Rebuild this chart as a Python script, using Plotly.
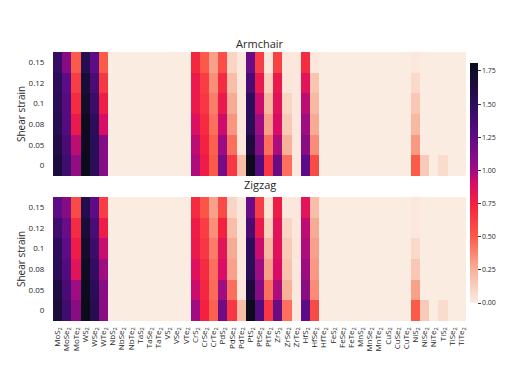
import plotly.graph_objects as go

materials = ["MoS2", "MoSe2", "MoTe2", "WS2", "WSe2", "WTe2",
             "NbS2", "NbSe2", "NbTe2", "TaS2", "TaSe2", "TaTe2", "VS2", "VSe2", "VTe2",
             "CrS2", "CrSe2", "CrTe2", "PdS2", "PdSe2", "PdTe2", "PtS2", "PtSe2", "PtTe2",
             "ZrS2", "ZrSe2", "ZrTe2", "HfS2", "HfSe2", "HfTe2",
             "FeS2", "FeSe2", "FeTe2", "MnS2", "MnSe2", "MnTe2", "CuS2", "CuSe2", "CuTe2",
             "NiS2", "NiSe2", "NiTe2", "TiS2", "TiSe2", "TiTe2"]
strain_labels = ["0", "0.05", "0.08", "0.1", "0.12", "0.15"]

# Armchair (one list per strain, bottom to top)
arm_000 = [1.65, 1.40, 1.05, 1.81, 1.53, 1.10, 0, 0, 0, 0, 0, 0, 0, 0, 0,
           0.98, 0.78, 0.50, 1.15, 0.65, 0.20, 1.80, 1.30, 0.65, 1.20, 0.44, 0.02, 1.25, 0.57, 0,
           0, 0, 0, 0, 0, 0, 0, 0, 0, 0.50, 0.15, 0, 0.07, 0, 0]
arm_005 = [1.60, 1.35, 0.95, 1.78, 1.52, 1.10, 0, 0, 0, 0, 0, 0, 0, 0, 0,
           0.95, 0.74, 0.48, 1.02, 0.44, 0.02, 1.65, 1.10, 0.44, 0.98, 0.25, 0.02, 1.08, 0.36, 0,
           0, 0, 0, 0, 0, 0, 0, 0, 0, 0.32, 0, 0, 0, 0, 0]
arm_008 = [1.55, 1.30, 0.80, 1.78, 1.50, 0.90, 0, 0, 0, 0, 0, 0, 0, 0, 0,
           0.88, 0.70, 0.44, 0.92, 0.33, 0.02, 1.53, 1.00, 0.30, 0.90, 0.15, 0.02, 1.00, 0.27, 0,
           0, 0, 0, 0, 0, 0, 0, 0, 0, 0.22, 0, 0, 0, 0, 0]
arm_010 = [1.52, 1.28, 0.70, 1.72, 1.42, 0.78, 0, 0, 0, 0, 0, 0, 0, 0, 0,
           0.80, 0.65, 0.40, 0.80, 0.27, 0.02, 1.50, 0.93, 0.22, 0.85, 0.10, 0.02, 0.95, 0.22, 0,
           0, 0, 0, 0, 0, 0, 0, 0, 0, 0.16, 0, 0, 0, 0, 0]
arm_012 = [1.50, 1.25, 0.62, 1.68, 1.35, 0.65, 0, 0, 0, 0, 0, 0, 0, 0, 0,
           0.80, 0.62, 0.35, 0.70, 0.20, 0.02, 1.35, 0.80, 0.12, 0.80, 0.03, 0.02, 0.85, 0.17, 0,
           0, 0, 0, 0, 0, 0, 0, 0, 0, 0.08, 0, 0, 0, 0, 0]
arm_015 = [1.45, 1.10, 0.50, 1.55, 1.25, 0.50, 0, 0, 0, 0, 0, 0, 0, 0, 0,
           0.72, 0.50, 0.30, 0.55, 0.10, 0.02, 1.20, 0.62, 0.02, 0.60, 0.02, 0.02, 0.70, 0.02, 0,
           0, 0, 0, 0, 0, 0, 0, 0, 0, 0.02, 0, 0, 0, 0, 0]

# Zigzag (one list per strain, bottom to top)
zz_000 = [1.66, 1.40, 1.08, 1.81, 1.56, 1.08, 0, 0, 0, 0, 0, 0, 0, 0, 0,
          1.00, 0.75, 0.48, 1.18, 0.65, 0.20, 1.80, 1.30, 0.65, 1.20, 0.44, 0.02, 1.25, 0.57, 0,
          0, 0, 0, 0, 0, 0, 0, 0, 0, 0.50, 0.15, 0, 0.07, 0, 0]
zz_005 = [1.62, 1.35, 1.00, 1.79, 1.52, 1.08, 0, 0, 0, 0, 0, 0, 0, 0, 0,
          0.93, 0.72, 0.45, 1.00, 0.44, 0.02, 1.65, 1.10, 0.44, 0.98, 0.25, 0.02, 1.08, 0.36, 0,
          0, 0, 0, 0, 0, 0, 0, 0, 0, 0.30, 0, 0, 0, 0, 0]
zz_008 = [1.53, 1.30, 0.85, 1.77, 1.47, 1.00, 0, 0, 0, 0, 0, 0, 0, 0, 0,
          0.87, 0.70, 0.44, 0.90, 0.30, 0.02, 1.53, 1.00, 0.30, 0.90, 0.18, 0.02, 1.02, 0.32, 0,
          0, 0, 0, 0, 0, 0, 0, 0, 0, 0.16, 0, 0, 0, 0, 0]
zz_010 = [1.50, 1.25, 0.78, 1.72, 1.42, 0.93, 0, 0, 0, 0, 0, 0, 0, 0, 0,
          0.80, 0.65, 0.40, 0.85, 0.27, 0.02, 1.50, 0.93, 0.22, 0.86, 0.15, 0.03, 0.98, 0.30, 0,
          0, 0, 0, 0, 0, 0, 0, 0, 0, 0.08, 0, 0, 0, 0, 0]
zz_012 = [1.40, 1.20, 0.70, 1.68, 1.35, 0.78, 0, 0, 0, 0, 0, 0, 0, 0, 0,
          0.78, 0.62, 0.35, 0.75, 0.20, 0.02, 1.35, 0.80, 0.12, 0.85, 0.10, 0.02, 0.95, 0.27, 0,
          0, 0, 0, 0, 0, 0, 0, 0, 0, 0.02, 0, 0, 0, 0, 0]
zz_015 = [1.25, 1.10, 0.57, 1.57, 1.25, 0.62, 0, 0, 0, 0, 0, 0, 0, 0, 0,
          0.70, 0.52, 0.30, 0.57, 0.10, 0.02, 1.20, 0.62, 0.04, 0.78, 0.02, 0.02, 0.85, 0.20, 0,
          0, 0, 0, 0, 0, 0, 0, 0, 0, 0.02, 0, 0, 0, 0, 0]

armchair = [arm_000, arm_005, arm_008, arm_010, arm_012, arm_015]
zigzag = [zz_000, zz_005, zz_008, zz_010, zz_012, zz_015]

cbar_ticks = [0, 0.25, 0.5, 0.75, 1.0, 1.25, 1.5, 1.75]
ZMIN, ZMAX = 0.0, 1.81

def sub(name):
    return name[:-1] + "<sub>" + name[-1] + "</sub>"

xlabels = [sub(m) for m in materials]

stops = [(0.00, "#FBECE2"), (0.25, "#F8B29A"), (0.50, "#FC5A48"), (0.75, "#F3203F"),
         (0.90, "#DA0C66"), (1.00, "#A00C82"), (1.25, "#5C0C86"), (1.50, "#2C0D5C"),
         (1.81, "#0B0B1A")]
colorscale = [[v / ZMAX, c] for v, c in stops]

FONT = "Open Sans"
OFF = 8  # page body margin
W, H = 524 - OFF, 387 - OFF
# target screen coordinates of the plot area
sx0, sx1, sy0, sy1 = 53, 466, 52, 321
L, T = sx0 - OFF, sy0 - OFF
R, B = W - (sx1 - OFF), H - (sy1 - OFF)
pw, ph = W - L - R, H - T - B

def px(sx):
    return (sx - sx0) / pw

def py(sy):
    return (sy1 - sy) / ph

fig = go.Figure()
fig.add_trace(go.Heatmap(
    z=armchair, x=xlabels, y=strain_labels, colorscale=colorscale, zmin=ZMIN, zmax=ZMAX,
    xaxis="x", yaxis="y",
    colorbar=dict(x=px(470), xanchor="left", xpad=0, ypad=0,
                  y=py(183), yanchor="middle",
                  len=240, lenmode="pixels", thickness=8, thicknessmode="pixels",
                  outlinewidth=0, tickvals=cbar_ticks, tickformat=".2f",
                  ticks="outside", ticklen=3, tickcolor="#333",
                  tickfont=dict(family=FONT, size=7, color="#262626"))))
fig.add_trace(go.Heatmap(
    z=zigzag, x=xlabels, y=strain_labels, colorscale=colorscale, zmin=ZMIN, zmax=ZMAX,
    xaxis="x2", yaxis="y2", showscale=False))

tickfont = dict(family=FONT, size=8, color="#262626")
top_lo = py(176)
bot_hi = py(197)
fig.update_layout(
    width=W, height=H, margin=dict(l=L, r=R, t=T, b=B, autoexpand=False),
    paper_bgcolor="white", plot_bgcolor="white",
    xaxis=dict(domain=[0, 1], anchor="y", showticklabels=False, ticks="", showgrid=False,
               zeroline=False, type="category", automargin=False),
    yaxis=dict(domain=[top_lo, 1], anchor="x", showgrid=False, zeroline=False,
               ticks="outside", ticklen=6, tickcolor="rgba(0,0,0,0)", tickfont=tickfont,
               type="category", automargin=False),
    xaxis2=dict(domain=[0, 1], anchor="y2", showgrid=False, zeroline=False,
                tickangle=-90, ticks="outside", ticklen=2, tickcolor="rgba(0,0,0,0)",
                tickfont=tickfont, type="category", automargin=False,
                tickmode="array", tickvals=xlabels, ticktext=xlabels),
    yaxis2=dict(domain=[0, bot_hi], anchor="x2", showgrid=False, zeroline=False,
                ticks="outside", ticklen=6, tickcolor="rgba(0,0,0,0)", tickfont=tickfont,
                type="category", automargin=False),
    annotations=[
        dict(text="Armchair", x=0.5, y=py(43), xref="paper", yref="paper",
             showarrow=False, font=dict(family=FONT, size=11, color="#262626"),
             xanchor="center", yanchor="middle"),
        dict(text="Zigzag", x=0.5, y=py(184), xref="paper", yref="paper",
             showarrow=False, font=dict(family=FONT, size=11, color="#262626"),
             xanchor="center", yanchor="middle"),
        dict(text="Shear strain", x=px(21), y=(top_lo + 1) / 2, xref="paper", yref="paper",
             showarrow=False, textangle=-90, font=dict(family=FONT, size=10, color="#262626"),
             xanchor="center", yanchor="middle"),
        dict(text="Shear strain", x=px(21), y=bot_hi / 2, xref="paper", yref="paper",
             showarrow=False, textangle=-90, font=dict(family=FONT, size=10, color="#262626"),
             xanchor="center", yanchor="middle"),
    ],
)

fig.write_html("out.html")
